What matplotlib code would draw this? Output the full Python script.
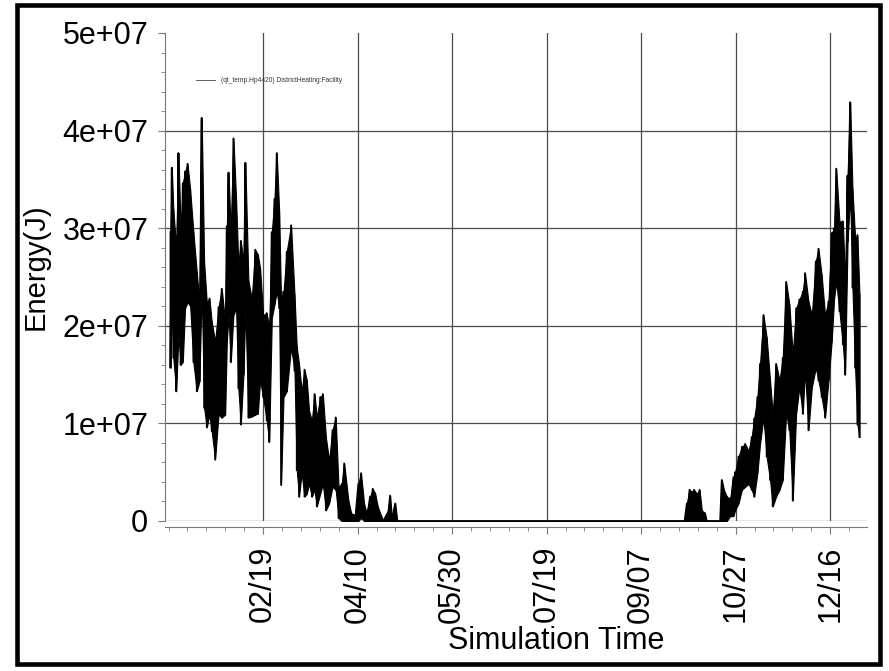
import numpy as np
import matplotlib.pyplot as plt
from matplotlib.patches import Rectangle
from matplotlib.lines import Line2D
from matplotlib.ticker import MultipleLocator

plt.rcParams['font.family'] = ['Liberation Sans', 'DejaVu Sans']

# day of year (0 = Jan 1) with the upper and lower envelope of the hourly
# district heating energy, in 1e6 J
winter_days = [0, 0.7, 1.5, 3.0, 4.2, 5.4, 6.5, 7.7, 9.0, 10.4, 12.1, 13.9, 15.3, 16.5,
               17.8, 19.2, 20.6, 21.8, 23.6, 25.4, 27.1, 28.9, 29.8, 30.7, 31.9, 33.3,
               34.7, 35.9, 37.2, 38.6, 39.6, 41.2, 43.0, 44.8, 46.2, 47.4, 49.0, 50.9,
               52.2, 53.6, 55.0, 56.2, 57.5, 58.5, 59.8, 61.5, 63.8, 65.6, 66.8, 68.0,
               69.4, 70.9, 72.1, 73.3, 74.8, 76.2, 77.4, 79.2, 80.6, 82.2, 83.9, 85.7,
               87.4, 88.9, 90.6, 91.9, 94.1, 95.6, 97.7, 99.4, 100.8, 102.4, 103.8,
               105.6, 107.0, 108.3, 109.5, 110.9, 112.7, 114.8, 116.2, 117.1, 118.9, 120.0]
winter_hi = [29.6, 36.2, 31.9, 28.0, 37.7, 29.7, 34.6, 35.8, 36.6, 34.0, 29.6, 25.5, 22.4, 41.3,
             26.5, 22.4, 22.8, 20.4, 18.4, 21.9, 23.8, 20.4, 30.2, 35.7, 29.6, 39.2,
             33.0, 26.3, 28.7, 26.5, 36.7, 24.6, 22.8, 27.8, 27.3, 25.9, 21.1, 21.3,
             19.8, 29.6, 33.0, 37.7, 31.7, 22.5, 23.5, 27.6, 30.3, 23.2, 17.8, 16.1,
             13.3, 15.5, 14.4, 11.3, 10.3, 13.0, 10.6, 12.7, 13.0, 8.6, 6.2, 9.3,
             10.6, 3.5, 3.8, 5.9, 2.1, 0.8, 0.6, 3.8, 4.9, 1.8, 0.8,
             2.5, 3.3, 2.8, 1.6, 0.8, 0.0, 0.8, 2.6, 0.4, 1.8, 0.0]
winter_lo = [15.7, 22.4, 16.7, 13.3, 19.0, 16.0, 16.3, 21.8, 22.4, 22.1, 16.3, 13.3, 14.3, 23.8,
             11.6, 9.6, 10.9, 9.2, 6.3, 10.9, 10.6, 10.9, 18.4, 21.1, 16.3, 21.1,
             21.8, 13.6, 9.9, 15.0, 21.8, 10.6, 10.7, 10.9, 11.0, 14.4, 12.7, 10.3,
             8.1, 20.8, 22.2, 23.5, 21.8, 3.7, 12.7, 13.3, 17.8, 15.4, 5.2, 2.5,
             4.9, 2.5, 2.8, 3.8, 2.5, 3.2, 1.5, 2.8, 3.8, 1.1, 1.8, 3.5,
             3.2, 0.3, 0.0, 0.0, 0.0, 0.0, 0.0, 0.0, 0.3, 0.0, 0.0,
             0.0, 0.0, 0.0, 0.0, 0.0, 0.0, 0.0, 0.0, 0.0, 0.0, 0.0]

autumn_days = [272.0, 273.2, 274.6, 275.8, 277.0, 278.5, 279.9, 281.1, 282.8, 283.7, 290.8,
               291.7, 292.8, 294.3, 296.1, 297.8, 298.7, 300.5, 302.3, 304.0, 305.8,
               307.5, 308.8, 310.5, 311.9, 313.7, 315.4, 317.2, 318.6, 320.4, 322.2,
               323.9, 325.7, 327.4, 329.2, 331.0, 332.7, 334.5, 335.7, 337.5, 339.3,
               341.4, 342.8, 344.5, 346.3, 348.1, 349.8, 351.1, 352.2, 353.9, 355.7,
               356.9, 358.2, 359.6, 360.8, 362.2, 363.4, 364.5]
autumn_hi = [0.0, 1.8, 3.2, 3.0, 3.2, 2.8, 3.2, 1.1, 0.8, 0.0, 0.0,
             4.2, 3.2, 2.5, 2.3, 4.5, 5.0, 6.6, 7.6, 7.9, 7.2,
             8.6, 10.5, 12.7, 16.1, 21.1, 18.8, 14.4, 11.0, 16.1, 14.4,
             16.7, 24.5, 22.2, 17.1, 21.8, 22.7, 23.5, 25.4, 22.5, 21.1,
             26.6, 27.9, 25.2, 21.1, 22.5, 29.5, 30.0, 36.1, 30.7, 30.7,
             24.5, 35.4, 42.9, 34.0, 29.0, 29.3, 23.2]
autumn_lo = [0.0, 0.0, 0.0, 0.0, 0.0, 0.0, 0.0, 0.0, 0.0, 0.0, 0.0,
             0.0, 0.0, 0.0, 0.5, 0.5, 1.1, 1.8, 3.2, 3.5, 3.8,
             3.2, 2.5, 4.9, 7.9, 10.6, 6.6, 4.2, 1.5, 2.5, 3.2,
             4.2, 11.0, 9.3, 2.1, 11.0, 13.7, 11.0, 15.4, 9.3, 13.7,
             15.7, 14.4, 12.7, 10.6, 14.4, 18.4, 22.8, 24.5, 21.5, 18.1,
             15.0, 28.6, 33.4, 23.9, 15.7, 9.9, 8.6]

tick_days = [49, 99, 149, 199, 249, 299, 349]
tick_labels = ['02/19', '04/10', '05/30', '07/19', '09/07', '10/27', '12/16']
y_ticks = [0, 1e7, 2e7, 3e7, 4e7, 5e7]
y_labels = ['0', '1e+07', '2e+07', '3e+07', '4e+07', '5e+07']

days = np.array(winter_days + autumn_days)
hi = np.array(winter_hi + autumn_hi) * 1e6
lo = np.array(winter_lo + autumn_lo) * 1e6
x = np.column_stack([days, days]).ravel()
y = np.column_stack([hi, lo]).ravel()

fig = plt.figure(figsize=(8.89, 6.71), dpi=100)
ax = fig.add_axes([165 / 889, 1 - 521 / 671, (867 - 165) / 889, (521 - 33) / 671])

# dense hourly trace: solid band between the daily lows and highs, spikes on top
ax.fill_between(days, lo, hi, color='black', lw=0.8, zorder=3)
ax.plot(x, y, color='black', lw=1.3, zorder=3)

ax.set_xlim(-2.9, 368.5)
ax.set_ylim(0, 5e7)
ax.set_yticks(y_ticks)
ax.set_yticklabels(y_labels)
ax.yaxis.set_minor_locator(MultipleLocator(2e6))
ax.set_xticks(tick_days)
ax.set_xticklabels(tick_labels)
ax.xaxis.set_minor_locator(MultipleLocator(10, offset=9))

ax.grid(which='major', color='#4a4a4a', lw=0.9)
ax.get_ygridlines()[-1].set_visible(False)
ax.set_axisbelow(True)

for s in ['top', 'right']:
    ax.spines[s].set_visible(False)
ax.spines['bottom'].set_position(('outward', 4))
ax.spines['bottom'].set_color('#777777')
ax.spines['left'].set_color('#777777')
ax.tick_params(which='major', direction='out', length=5, color='#777777', labelsize=22)
ax.tick_params(which='minor', direction='out', length=3, color='#777777')
ax.tick_params(axis='y', pad=7)
ax.tick_params(axis='x', pad=9, labelrotation=90)

ax.set_xlabel('Simulation Time', fontsize=22)
ax.xaxis.set_label_coords(0.557, -0.216)
ax.set_ylabel('Energy(J)', fontsize=21)
ax.yaxis.set_label_coords(-0.164, 0.522)

# small legend
fig.add_artist(Line2D([196 / 889, 215 / 889], [1 - 80 / 671] * 2, color='#444444', lw=0.6))
fig.text(221 / 889, 1 - 80 / 671, '(qt_temp.Hp4420) DistrictHeating:Facility',
         fontsize=4.8, color='#333344', va='center')

# frame around the figure
fig.add_artist(Rectangle((17 / 889, 1 - 664 / 671), 863 / 889, 659 / 671,
                         transform=fig.transFigure, fill=False, ec='black', lw=3.3))

fig.savefig('out.png', dpi=100)
